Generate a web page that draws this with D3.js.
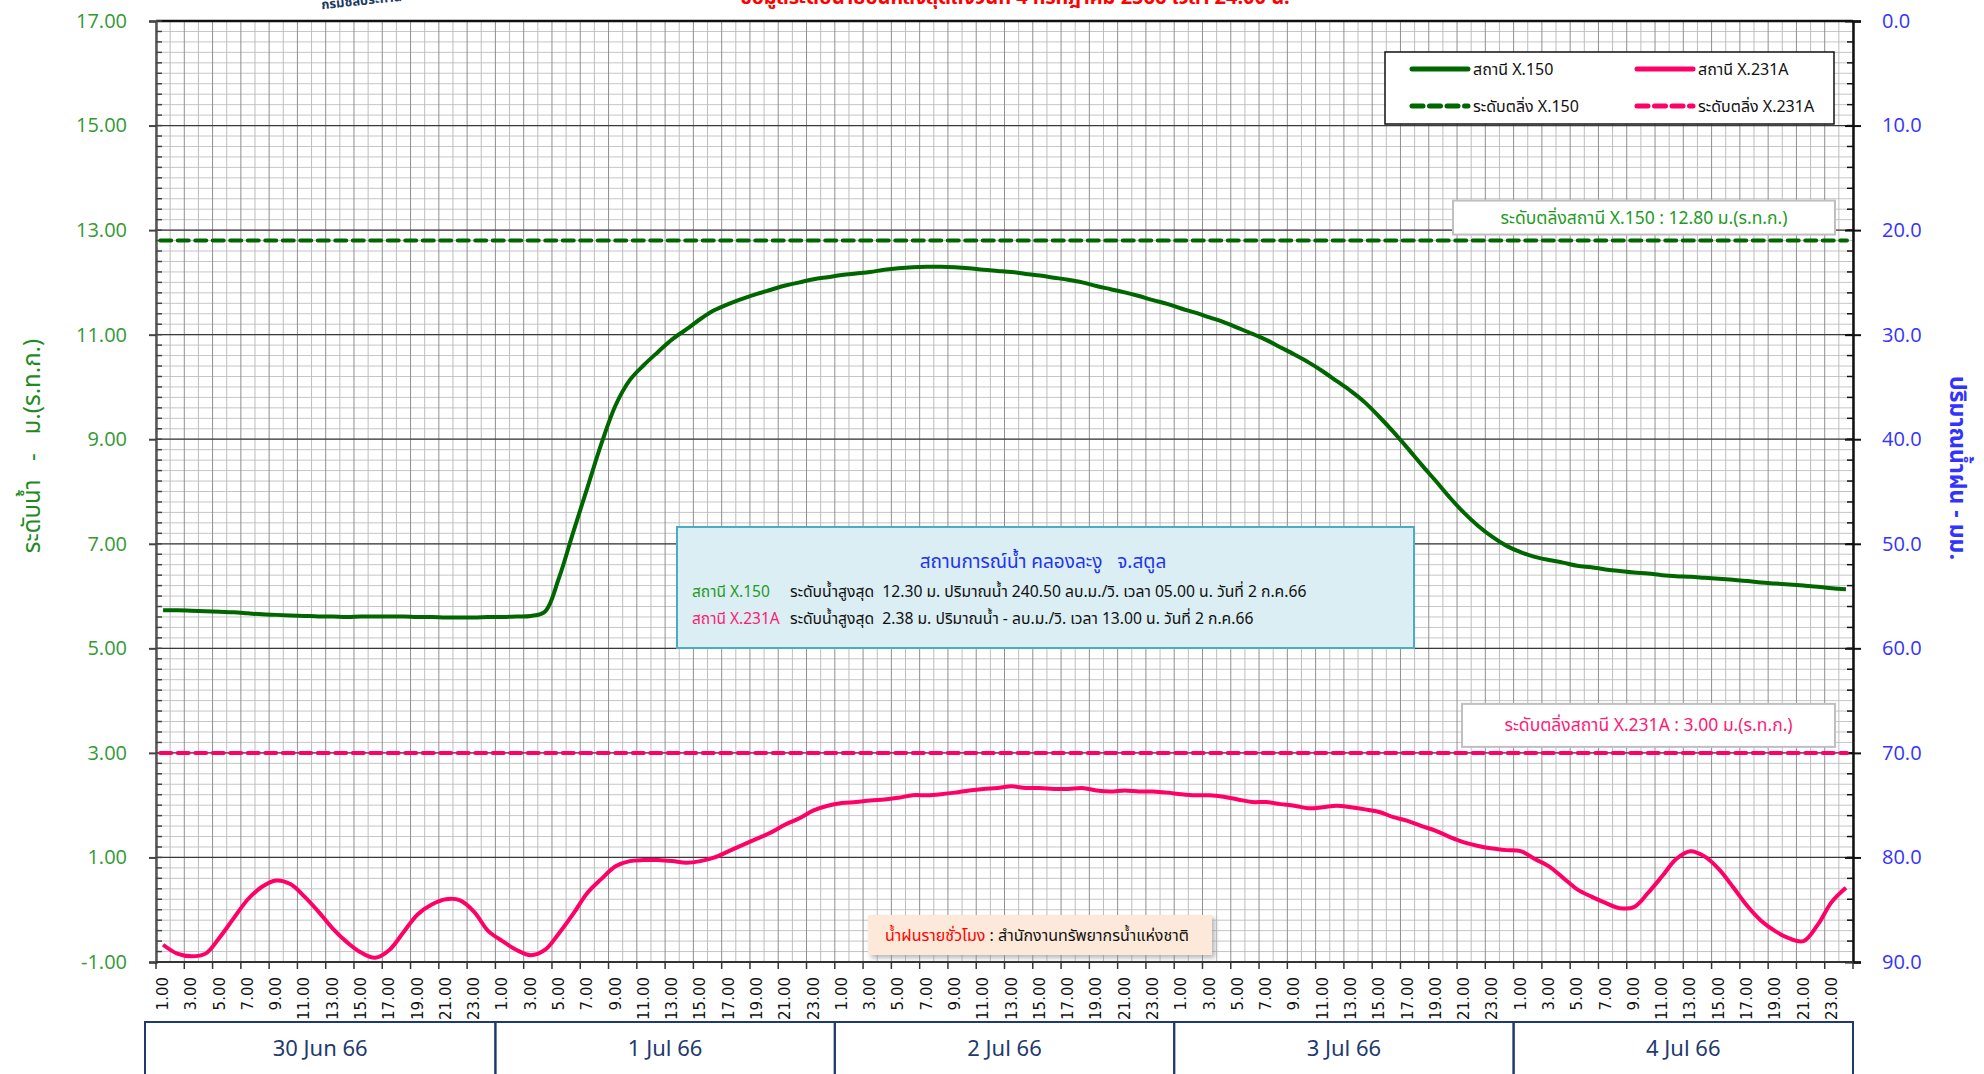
<!DOCTYPE html>
<html lang="th">
<head>
<meta charset="UTF-8">
<title>สถานการณ์น้ำ คลองละงู จ.สตูล</title>
<style>
  body { margin: 0; background: #fff; }
  svg { display: block; font-family: "Noto Sans Thai", Tahoma, "Noto Sans", "DejaVu Sans", sans-serif; }
</style>
</head>
<body>
<div id="chart"></div>
<script src="https://d3js.org/d3.v7.min.js"></script>
<script>
// ---- data (hourly, 30 Jun 66 01.00 -> 4 Jul 66 24.00) ----
const days = ["30 Jun 66", "1 Jul 66", "2 Jul 66", "3 Jul 66", "4 Jul 66"];
const hourLabels = d3.range(1, 25).map(h => h + ".00");

const x150 = [
  5.73, 5.73, 5.72, 5.71, 5.70, 5.69, 5.67, 5.65, 5.64, 5.63, 5.62, 5.61,
  5.61, 5.60, 5.61, 5.61, 5.61, 5.61, 5.60, 5.60, 5.59, 5.59, 5.59, 5.60,
  5.60, 5.61, 5.62, 5.70, 6.35, 7.22, 8.07, 8.92, 9.65, 10.13, 10.42, 10.67,
  10.91, 11.10, 11.30, 11.47, 11.59, 11.69, 11.78, 11.86, 11.94, 12.00, 12.06, 12.10,
  12.14, 12.17, 12.20, 12.24, 12.27, 12.29, 12.30, 12.30, 12.29, 12.27, 12.24, 12.22,
  12.20, 12.16, 12.13, 12.09, 12.05, 12.00, 11.93, 11.87, 11.81, 11.74, 11.66, 11.59,
  11.50, 11.42, 11.33, 11.24, 11.13, 11.02, 10.90, 10.76, 10.62, 10.47, 10.30, 10.11,
  9.92, 9.70, 9.43, 9.14, 8.83, 8.51, 8.20, 7.88, 7.59, 7.34, 7.13, 6.96,
  6.84, 6.75, 6.69, 6.64, 6.58, 6.55, 6.51, 6.48, 6.45, 6.43, 6.40, 6.38,
  6.37, 6.35, 6.33, 6.31, 6.29, 6.26, 6.24, 6.22, 6.20, 6.18, 6.15, 6.13
];
const x231a = [
  -0.67, -0.84, -0.89, -0.84, -0.53, -0.16, 0.20, 0.44, 0.56, 0.49, 0.25, -0.04,
  -0.36, -0.62, -0.82, -0.92, -0.77, -0.43, -0.09, 0.10, 0.20, 0.18, -0.04, -0.41,
  -0.60, -0.77, -0.87, -0.77, -0.45, -0.08, 0.32, 0.59, 0.83, 0.93, 0.95, 0.95,
  0.93, 0.90, 0.93, 1.00, 1.12, 1.24, 1.36, 1.48, 1.63, 1.75, 1.90, 1.99,
  2.04, 2.06, 2.09, 2.11, 2.14, 2.19, 2.19, 2.21, 2.24, 2.28, 2.31, 2.33,
  2.36, 2.33, 2.33, 2.31, 2.31, 2.33, 2.28, 2.26, 2.28, 2.26, 2.26, 2.24,
  2.21, 2.19, 2.19, 2.16, 2.11, 2.06, 2.06, 2.02, 1.99, 1.94, 1.96, 1.99,
  1.96, 1.92, 1.87, 1.77, 1.70, 1.60, 1.51, 1.39, 1.29, 1.22, 1.17, 1.14,
  1.12, 0.97, 0.83, 0.61, 0.39, 0.25, 0.13, 0.03, 0.05, 0.32, 0.64, 0.97,
  1.12, 1.02, 0.78, 0.44, 0.08, -0.21, -0.41, -0.55, -0.60, -0.29, 0.15, 0.42
];
const levelTicks = d3.range(-1, 17.001, 2);
const rainTicks = d3.range(0, 90.001, 10);
const critical = [
  { name: "ระดับตลิ่ง X.150", value: 12.80, label: "ระดับตลิ่งสถานี X.150 : 12.80 ม.(ร.ท.ก.)", color: "#006600", text: "#1f9a1f" },
  { name: "ระดับตลิ่ง X.231A", value: 3.00, label: "ระดับตลิ่งสถานี X.231A : 3.00 ม.(ร.ท.ก.)", color: "#ff0066", text: "#ff1a75" }
];

// ---- layout ----
const W = 1984, H = 1074;
const pLeft = 156, pRight = 1853, pTop = 21, pBottom = 962;
const nHours = x150.length;

const svg = d3.select("#chart").append("svg").attr("width", W).attr("height", H);

const x = d3.scaleLinear().domain([0, nHours]).range([pLeft, pRight]);
const y = d3.scaleLinear().domain([-1, 17]).range([pBottom, pTop]);
const yR = d3.scaleLinear().domain([0, 90]).range([pTop, pBottom]);
const cx = i => x(i + 0.5);

// title and logo, both cut off at the top edge as in the source image
svg.append("text").attr("x", 1015).attr("y", 4).attr("text-anchor", "middle")
  .attr("font-size", 20).attr("font-weight", "bold").attr("fill", "#ff0000")
  .text("ข้อมูลระดับน้ำย้อนหลังสุดถึงวันที่ 4 กรกฎาคม 2566 เวลา 24.00 น.");
svg.append("text").attr("x", 362).attr("y", 5).attr("text-anchor", "middle")
  .attr("font-size", 13).attr("font-weight", "bold").attr("fill", "#203864")
  .attr("transform", "rotate(-6,362,5)").text("กรมชลประทาน");

// ---- grid ----
const g = svg.append("g");
g.selectAll(".hmin").data(d3.range(-1, 17.001, 0.2)).join("line")
  .attr("x1", pLeft).attr("x2", pRight).attr("y1", d => y(d)).attr("y2", d => y(d))
  .attr("stroke", "#c6c6c6").attr("stroke-width", 1);
g.selectAll(".vmin").data(d3.range(0, nHours + 1)).join("line")
  .attr("x1", d => x(d)).attr("x2", d => x(d)).attr("y1", pTop).attr("y2", pBottom)
  .attr("stroke", d => d % 2 === 0 ? "#8f8f8f" : "#bdbdbd").attr("stroke-width", 1);
g.selectAll(".hmaj").data(levelTicks).join("line")
  .attr("x1", pLeft).attr("x2", pRight).attr("y1", d => y(d)).attr("y2", d => y(d))
  .attr("stroke", "#3a3a3a").attr("stroke-width", 1.2);

// top border
svg.append("line").attr("x1", pLeft).attr("x2", pRight).attr("y1", pTop).attr("y2", pTop)
  .attr("stroke", "#111").attr("stroke-width", 2.5);

// ---- axes ----
const minorLevel = d3.range(-1, 17.001, 0.2);
const axL = svg.append("g").attr("transform", `translate(${pLeft},0)`);
axL.call(d3.axisLeft(y).tickValues(levelTicks).tickSize(7).tickFormat(d => d.toFixed(2)))
  .call(a => a.select(".domain").attr("stroke", "#555").attr("stroke-width", 2.5))
  .call(a => a.selectAll(".tick line").attr("stroke", "#444").attr("stroke-width", 2))
  .call(a => a.selectAll(".tick text").attr("x", -29).attr("font-size", 20)
    .attr("fill", "#339933").attr("font-family", "'Open Sans', 'Noto Sans', sans-serif"));
axL.selectAll(".mt").data(minorLevel).join("line")
  .attr("x1", 0).attr("x2", 6).attr("y1", d => y(d)).attr("y2", d => y(d))
  .attr("stroke", "#444").attr("stroke-width", 1.5);

const axR = svg.append("g").attr("transform", `translate(${pRight},0)`);
axR.call(d3.axisRight(yR).tickValues(rainTicks).tickSize(8).tickFormat(d => d.toFixed(1)))
  .call(a => a.select(".domain").attr("stroke", "#111").attr("stroke-width", 2.5))
  .call(a => a.selectAll(".tick line").attr("x1", -8).attr("stroke", "#111").attr("stroke-width", 2))
  .call(a => a.selectAll(".tick text").attr("x", 29).attr("font-size", 20)
    .attr("fill", "#3333ff").attr("font-family", "'Open Sans', 'Noto Sans', sans-serif"));
axR.selectAll(".mt").data(d3.range(0, 90.001, 2)).join("line")
  .attr("x1", -6).attr("x2", 0).attr("y1", d => yR(d)).attr("y2", d => yR(d))
  .attr("stroke", "#111").attr("stroke-width", 1.5);

// bottom axis: ticks every 2 hours, labels at odd hours (category centres)
const axB = svg.append("g");
axB.append("line").attr("x1", pLeft).attr("x2", pRight).attr("y1", pBottom).attr("y2", pBottom)
  .attr("stroke", "#333").attr("stroke-width", 2);
axB.selectAll(".bt").data(d3.range(0, nHours + 1, 2)).join("line")
  .attr("x1", d => x(d)).attr("x2", d => x(d)).attr("y1", pBottom).attr("y2", pBottom + 7)
  .attr("stroke", "#333").attr("stroke-width", 1.5);
const labelIdx = d3.range(0, nHours).filter(i => i % 2 === 0);
axB.selectAll(".bl").data(labelIdx).join("text")
  .attr("transform", i => `translate(${cx(i) + 5},${pBottom + 15}) rotate(-90)`)
  .attr("text-anchor", "end").attr("font-size", 15).attr("fill", "#111")
  .attr("font-family", "'DejaVu Sans', 'Noto Sans', sans-serif")
  .text(i => hourLabels[i % 24]);

// day boxes
const dayG = svg.append("g");
days.forEach((d, k) => {
  const x0 = k === 0 ? x(0) - 11 : x(k * 24), x1 = x((k + 1) * 24);
  dayG.append("rect").attr("x", x0).attr("y", 1022).attr("width", x1 - x0).attr("height", 80)
    .attr("fill", "none").attr("stroke", "#1f3a6e").attr("stroke-width", 2);
  dayG.append("text").attr("x", (x0 + x1) / 2).attr("y", 1056).attr("text-anchor", "middle")
    .attr("font-size", 22).attr("fill", "#1f3a6e").text(d);
});

// axis titles
svg.append("text").attr("transform", "translate(40,446) rotate(-90)").attr("text-anchor", "middle")
  .attr("font-size", 24).attr("fill", "#1f8a1f").attr("xml:space", "preserve").text("ระดับน้ำ   -   ม.(ร.ท.ก.)");
svg.append("text").attr("transform", "translate(1950,468) rotate(90)").attr("text-anchor", "middle")
  .attr("font-size", 23).attr("font-weight", "bold").attr("fill", "#3333ff").text("ปริมาณน้ำฝน - มม.");

// ---- critical levels ----
critical.forEach((c, k) => {
  svg.append("line").attr("x1", x(0.3)).attr("x2", pRight - 6).attr("y1", y(c.value)).attr("y2", y(c.value))
    .attr("stroke", c.color).attr("stroke-width", 4).attr("stroke-dasharray", "11,6.5").attr("stroke-linecap", "round");
  const bw = k === 0 ? 382 : 373, bh = k === 0 ? 34 : 43;
  const by = y(c.value) - 6 - bh;
  svg.append("rect").attr("x", 1835 - bw).attr("y", by).attr("width", bw).attr("height", bh)
    .attr("fill", "#fff").attr("stroke", "#bfbfbf").attr("stroke-width", 2);
  svg.append("text").attr("x", 1835 - bw / 2).attr("y", by + bh / 2 + 6).attr("text-anchor", "middle")
    .attr("font-size", 17.5).attr("fill", c.text).text(c.label);
});

// ---- series ----
const line = d3.line().x((d, i) => cx(i)).y(d => y(d)).curve(d3.curveCatmullRom.alpha(0.5));
svg.append("path").datum(x150).attr("d", line).attr("fill", "none")
  .attr("stroke", "#006600").attr("stroke-width", 4);
svg.append("path").datum(x231a).attr("d", line).attr("fill", "none")
  .attr("stroke", "#ff0066").attr("stroke-width", 4);

// ---- legend ----
const leg = svg.append("g");
leg.append("rect").attr("x", 1385).attr("y", 52).attr("width", 449).attr("height", 72)
  .attr("fill", "#fff").attr("stroke", "#111").attr("stroke-width", 1.5);
const legItems = [
  { label: "สถานี X.150", color: "#006600", dash: null, col: 0, row: 0 },
  { label: "สถานี X.231A", color: "#ff0066", dash: null, col: 1, row: 0 },
  { label: "ระดับตลิ่ง X.150", color: "#006600", dash: "11,6.5", col: 0, row: 1 },
  { label: "ระดับตลิ่ง X.231A", color: "#ff0066", dash: "11,6.5", col: 1, row: 1 }
];
legItems.forEach(it => {
  const lx = 1412 + it.col * 225, ly = 69 + it.row * 37;
  leg.append("line").attr("x1", lx).attr("x2", lx + 56).attr("y1", ly).attr("y2", ly)
    .attr("stroke", it.color).attr("stroke-width", 5).attr("stroke-linecap", "round")
    .attr("stroke-dasharray", it.dash);
  leg.append("text").attr("x", lx + 61).attr("y", ly + 6).attr("font-size", 16).attr("fill", "#111").text(it.label);
});

// ---- info box ----
const info = svg.append("g");
info.append("rect").attr("x", 677).attr("y", 527).attr("width", 737).attr("height", 121)
  .attr("fill", "#daeef3").attr("stroke", "#4bacc6").attr("stroke-width", 2);
info.append("text").attr("x", 1043).attr("y", 568).attr("text-anchor", "middle")
  .attr("font-size", 19).attr("fill", "#2233ee").attr("xml:space", "preserve")
  .text("สถานการณ์น้ำ คลองละงู   จ.สตูล");
const infoRows = [
  { st: "สถานี X.150", color: "#1f9a1f", txt: "ระดับน้ำสูงสุด  12.30 ม. ปริมาณน้ำ 240.50 ลบ.ม./วิ. เวลา 05.00 น. วันที่ 2 ก.ค.66" },
  { st: "สถานี X.231A", color: "#ff1a75", txt: "ระดับน้ำสูงสุด  2.38 ม. ปริมาณน้ำ - ลบ.ม./วิ. เวลา 13.00 น. วันที่ 2 ก.ค.66" }
];
infoRows.forEach((r, k) => {
  info.append("text").attr("x", 692).attr("y", 597 + k * 27).attr("font-size", 15.5).attr("fill", r.color).text(r.st);
  info.append("text").attr("x", 790).attr("y", 597 + k * 27).attr("font-size", 15.7).attr("fill", "#111")
    .attr("xml:space", "preserve").text(r.txt);
});

// ---- rain source note ----
const defs = svg.append("defs");
defs.append("filter").attr("id", "sh").append("feGaussianBlur").attr("stdDeviation", 2.5);
svg.append("rect").attr("x", 871).attr("y", 918).attr("width", 344).attr("height", 40)
  .attr("fill", "#888").attr("opacity", 0.6).attr("filter", "url(#sh)");
svg.append("rect").attr("x", 868).attr("y", 915).attr("width", 344).attr("height", 40).attr("fill", "#fde9d9");
const note = svg.append("text").attr("x", 885).attr("y", 941).attr("font-size", 16);
note.append("tspan").attr("fill", "#ff0000").text("น้ำฝนรายชั่วโมง");
note.append("tspan").attr("fill", "#111").text(" : สำนักงานทรัพยากรน้ำแห่งชาติ");
</script>
</body>
</html>
